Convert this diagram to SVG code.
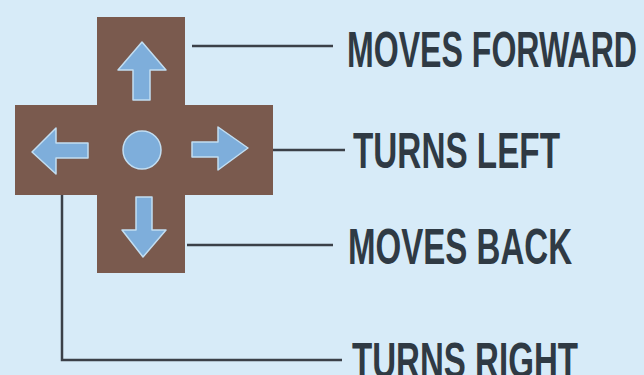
<svg xmlns="http://www.w3.org/2000/svg" width="644" height="375" viewBox="0 0 644 375">
<style>
.lbl{font-family:"Liberation Sans Narrow","Liberation Sans",Arial,sans-serif;font-weight:bold;font-size:50px;fill:#2f3a44}
.ln{fill:none;stroke:#3b4048;stroke-width:2.5}
.arw{fill:#7eaedb;stroke:#c2def2;stroke-width:1.5;stroke-linejoin:round}
</style>
<rect width="644" height="375" fill="#d7ebf8"/>
<g id="dpad">
<path d="M97,17 H185 V105 H273 V195 H185 V273 H97 V195 H15 V105 H97 Z" fill="#7a5a4e"/>
<path class="arw" d="M142,42 L166,70 L150,70 L150,100 L133,100 L133,70 L118,70 Z"/>
<path class="arw" d="M143,257 L166,230 L152,230 L152,197 L136,197 L136,230 L122,230 Z"/>
<path class="arw" d="M248,148 L218,127 L218,142 L192,142 L192,157 L218,157 L218,170 Z"/>
<path class="arw" d="M32,152 L56,128 L56,143 L88,143 L88,158 L56,158 L56,174 Z"/>
<circle class="arw" cx="142" cy="150" r="19"/>
</g>
<g id="connectors">
<path class="ln" d="M192,46 H333"/>
<path class="ln" d="M273,150 H345"/>
<path class="ln" d="M187,245 H333"/>
<path class="ln" d="M62,195 V360 H342"/>
</g>
<g id="label-forward"><text class="lbl" x="347" y="67" textLength="290" lengthAdjust="spacingAndGlyphs">MOVES FORWARD</text></g>
<g id="label-left"><text class="lbl" x="353" y="168" textLength="207" lengthAdjust="spacingAndGlyphs">TURNS LEFT</text></g>
<g id="label-back"><text class="lbl" x="348" y="264" textLength="224" lengthAdjust="spacingAndGlyphs">MOVES BACK</text></g>
<g id="label-right"><text class="lbl" x="352" y="378" textLength="226" lengthAdjust="spacingAndGlyphs">TURNS RIGHT</text></g>
</svg>
